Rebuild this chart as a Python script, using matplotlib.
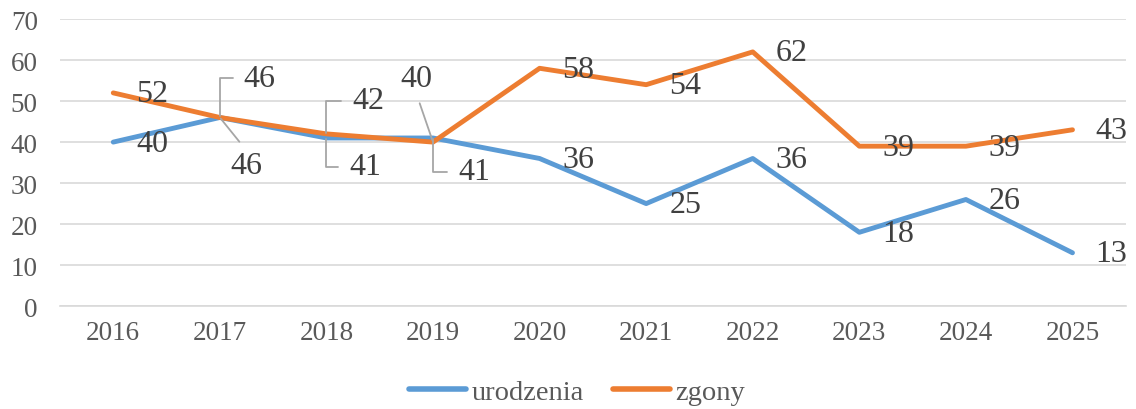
import matplotlib
matplotlib.use("Agg")
import matplotlib.pyplot as plt

plt.rcParams['font.family'] = ['Liberation Serif', 'DejaVu Serif']

years = [2016, 2017, 2018, 2019, 2020, 2021, 2022, 2023, 2024, 2025]
urodzenia = [40, 46, 41, 41, 36, 25, 36, 18, 26, 13]
zgony = [52, 46, 42, 40, 58, 54, 62, 39, 39, 43]

BLUE = '#5B9BD5'
ORANGE = '#ED7D31'
GRID = '#D9D9D9'
TXT = '#595959'
LBL = '#404040'
LEAD = '#A6A6A6'

fig = plt.figure(figsize=(11.36, 4.10), dpi=100)
ax = fig.add_axes([0.0528, 0.251, 0.9382, 0.70])

x = list(range(len(years)))
ax.plot(x, urodzenia, color=BLUE, lw=3.5, solid_capstyle='round', solid_joinstyle='round', label='urodzenia')
ax.plot(x, zgony, color=ORANGE, lw=3.5, solid_capstyle='round', solid_joinstyle='round', label='zgony')

ax.set_xlim(-0.5, len(years) - 0.5)
ax.set_ylim(0, 70)
ax.set_yticks(range(0, 71, 10))
ax.set_xticks(x)
ax.set_xticklabels([str(y) for y in years])
ax.grid(axis='y', color=GRID, lw=1.2)
ax.set_axisbelow(True)
for s in ['top', 'right', 'left']:
    ax.spines[s].set_visible(False)
ax.spines['bottom'].set_color(GRID)
ax.spines['bottom'].set_linewidth(1.2)
ax.tick_params(axis='both', length=0, labelsize=19.5, colors=TXT)
ax.tick_params(axis='y', pad=16)
ax.tick_params(axis='x', pad=10)

# label placement: default right of point; special ones with leader lines
def label(i, v, dx=23, dy=-1, ha='left', lead=None, relpos=(0, 0.5)):
    kw = dict(textcoords='offset pixels', ha=ha, va='center', fontsize=23, color=LBL)
    if lead is not None:
        kw['arrowprops'] = dict(arrowstyle='-', color=LEAD, lw=1.3, connectionstyle=lead,
                                relpos=relpos, shrinkA=6, shrinkB=1)
    ax.annotate(str(v), xy=(i, v), xytext=(dx, dy), **kw)

special = {
    ('z', 1): dict(dx=24, dy=39, lead='angle,angleA=0,angleB=90,rad=0'),
    ('u', 1): dict(dx=27, dy=-48, ha='center', lead='arc3', relpos=(0.5, 1)),
    ('z', 2): dict(dx=26, dy=33, lead='angle,angleA=0,angleB=90,rad=0'),
    ('u', 2): dict(dx=23, dy=-29, lead='angle,angleA=0,angleB=90,rad=0'),
    ('z', 3): dict(dx=-17, dy=64, ha='center', lead='arc3', relpos=(0.5, 0)),
    ('u', 3): dict(dx=25, dy=-34, lead='angle,angleA=0,angleB=90,rad=0'),
}

for i, v in enumerate(urodzenia):
    label(i, v, **special.get(('u', i), {}))
for i, v in enumerate(zgony):
    label(i, v, **special.get(('z', i), {}))

leg = fig.legend(loc='center', bbox_to_anchor=(0.508, 0.041), ncol=2, frameon=False,
                 fontsize=20.5, handlelength=2.0, handletextpad=0.2, columnspacing=1.0)
for t in leg.get_texts():
    t.set_color(TXT)
for l in leg.get_lines():
    l.set_linewidth(4)
    l.set_solid_capstyle('round')

fig.savefig('out.png', dpi=100)
